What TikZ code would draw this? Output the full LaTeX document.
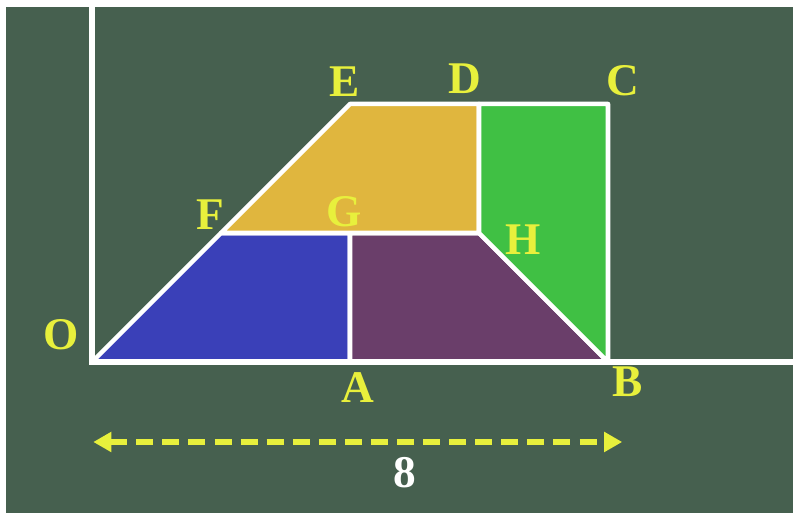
\documentclass[tikz,border=0pt]{standalone}
\usepackage{fontspec}
\setmainfont{Liberation Serif}
\usetikzlibrary{arrows.meta}
\definecolor{board}{RGB}{70,96,79}
\definecolor{blue1}{RGB}{58,64,184}
\definecolor{purple1}{RGB}{106,62,106}
\definecolor{gold1}{RGB}{224,182,62}
\definecolor{green1}{RGB}{64,192,68}
\definecolor{yellow1}{RGB}{232,240,60}
\tikzset{
  pt/.style={text=yellow1, font=\fontsize{20}{20}\selectfont\bfseries, inner sep=0pt},
  part/.style={draw=white, line width=2pt, line join=round},
}
\begin{document}
\begin{tikzpicture}
  % board
  \fill[white] (-1.426,-2.372) rectangle (10.868,5.612);
  \useasboundingbox (-1.426,-2.372) rectangle (10.868,5.612);
  \fill[board] (-1.333,-2.341) rectangle (10.868,5.504);

  \coordinate (O) at (0,0);
  \coordinate (A) at (4,0);
  \coordinate (B) at (8,0);
  \coordinate (C) at (8,4);
  \coordinate (D) at (6,4);
  \coordinate (E) at (4,4);
  \coordinate (F) at (2,2);
  \coordinate (G) at (4,2);
  \coordinate (H) at (6,2);
  \coordinate (ytop) at (0,5.504);
  \coordinate (xend) at (10.868,0);

  \filldraw[part, fill=blue1] (O) -- (A) -- (G) -- (F) -- cycle;
  \filldraw[part, fill=purple1] (A) -- (B) -- (H) -- (G) -- cycle;
  \filldraw[part, fill=gold1] (F) -- (G) -- (H) -- (D) -- (E) -- cycle;
  \filldraw[part, fill=green1] (H) -- (B) -- (C) -- (D) -- cycle;
  \draw[white, line width=2.6pt] (ytop) -- (O) -- (xend);

  \node[pt] (lO) at (-0.48,0.43) {O};
  \node[pt] (lA) at (4.12,-0.39) {A};
  \node[pt] (lB) at (8.31,-0.31) {B};
  \node[pt] (lC) at (8.23,4.36) {C};
  \node[pt] (lD) at (5.78,4.39) {D};
  \node[pt] (lE) at (3.91,4.34) {E};
  \node[pt] (lF) at (1.83,2.28) {F};
  \node[pt] (lG) at (3.91,2.33) {G};
  \node[pt] (lH) at (6.68,1.89) {H};

  % length of OB
  \coordinate (al) at (0.02,-1.24);
  \coordinate (ar) at (8.22,-1.24);
  \draw[yellow1, line width=2.6pt, dash pattern=on 7.5pt off 4pt,
    {Triangle[length=8pt,width=8.5pt]}-{Triangle[length=8pt,width=8.5pt]}] (al) -- (ar);
  \node[pt, text=white] (len) at (4.85,-1.71) {8};
\end{tikzpicture}
\end{document}
